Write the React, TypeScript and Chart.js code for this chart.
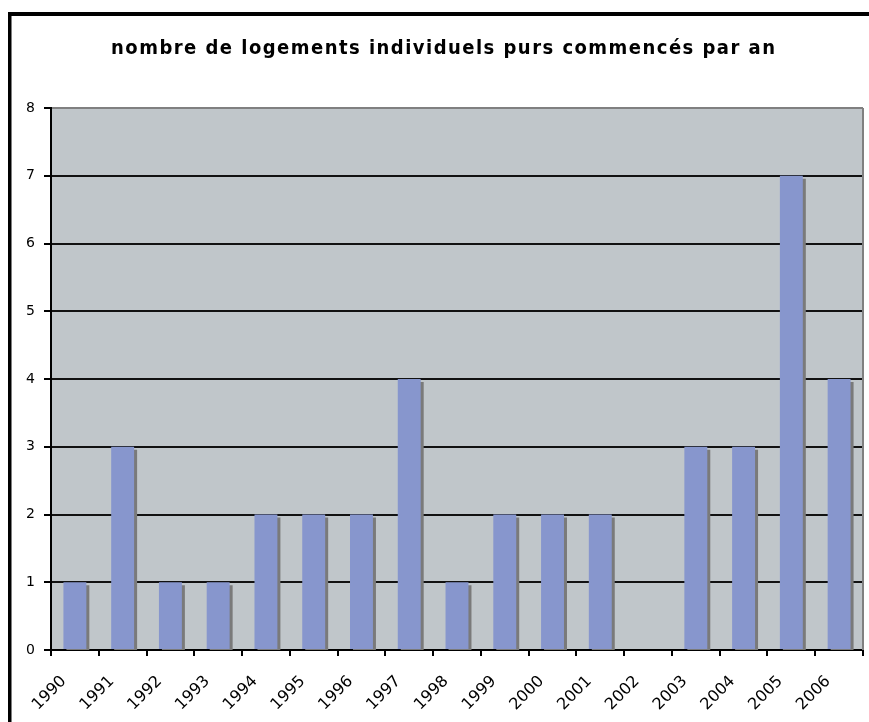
import React, { useEffect, useRef } from "react";
import { Chart, registerables } from "chart.js";

Chart.register(...registerables);

const TITLE = "nombre de logements individuels purs commencés par an";
const YEARS = ["1990", "1991", "1992", "1993", "1994", "1995", "1996", "1997", "1998", "1999", "2000", "2001", "2002", "2003", "2004", "2005", "2006"];
const VALUES = [1, 3, 1, 1, 2, 2, 2, 4, 1, 2, 2, 2, 0, 3, 3, 7, 4];
const Y_MIN = 0;
const Y_MAX = 8;

const W = 869;
const H = 722;

const decorPlugin = {
  id: "decor",
  beforeDraw(chart: any) {
    const { ctx, chartArea: a } = chart;
    ctx.save();
    ctx.fillStyle = "#ffffff";
    ctx.fillRect(0, 0, chart.width, chart.height);
    ctx.fillStyle = "#C0C6CA";
    ctx.fillRect(a.left, a.top, a.right - a.left, a.bottom - a.top);
    ctx.restore();
  },
  beforeDatasetDraw(chart: any) {
    const ctx = chart.ctx;
    ctx.shadowColor = "#7a7a7a";
    ctx.shadowOffsetX = 3;
    ctx.shadowOffsetY = 3;
    ctx.shadowBlur = 0;
  },
  afterDatasetDraw(chart: any) {
    const ctx = chart.ctx;
    ctx.shadowColor = "rgba(0,0,0,0)";
    ctx.shadowOffsetX = 0;
    ctx.shadowOffsetY = 0;
  },
  afterDraw(chart: any) {
    const { ctx, chartArea: a } = chart;
    ctx.save();
    // right plot border
    ctx.strokeStyle = "#808080";
    ctx.lineWidth = 2;
    ctx.beginPath();
    ctx.moveTo(a.right, a.top);
    ctx.lineTo(a.right, a.bottom);
    ctx.stroke();
    // outer frame
    ctx.fillStyle = "#000";
    ctx.fillRect(8, 12, 3.5, H - 12);
    ctx.fillRect(8, 12, W - 8, 4);
    // title
    ctx.font = "bold 20px 'DejaVu Sans Condensed', 'DejaVu Sans', sans-serif";
    ctx.textAlign = "center";
    ctx.textBaseline = "middle";
    ctx.fillStyle = "#000";
    const base = ctx.measureText(TITLE).width;
    const target = 664;
    const sp = Math.max(0, (target - base) / (TITLE.length - 1));
    (ctx as any).letterSpacing = sp.toFixed(2) + "px";
    ctx.fillText(TITLE, 443 + sp / 2, 49);
    ctx.restore();
  },
};

export default function App() {
  const ref = useRef<HTMLCanvasElement | null>(null);
  useEffect(() => {
    document.body.style.margin = "0";
    const canvas = ref.current!;
    const chart = new Chart(canvas, {
      type: "bar",
      data: {
        labels: YEARS,
        datasets: [
          {
            data: VALUES,
            backgroundColor: "#8796CD",
            borderWidth: 0,
            barPercentage: 0.96,
            categoryPercentage: 0.5,
          },
        ],
      },
      plugins: [decorPlugin],
      options: {
        animation: false,
        responsive: false,
        devicePixelRatio: 1,
        layout: { padding: { left: 12, right: 6, top: 108, bottom: 0 } },
        plugins: {
          legend: { display: false },
          title: { display: false },
          tooltip: { enabled: false },
        },
        scales: {
          x: {
            offset: true,
            afterFit(scale: any) {
              scale.height = 72;
            },
            grid: {
              offset: true,
              drawOnChartArea: false,
              drawTicks: true,
              tickLength: 6,
              tickColor: "#000",
              lineWidth: 2,
            },
            border: { color: "#000", width: 2 },
            ticks: {
              maxRotation: 45,
              minRotation: 45,
              autoSkip: false,
              labelOffset: -11,
              padding: 16,
              color: "#000",
              font: { family: "'DejaVu Sans', sans-serif", size: 16 },
            },
          },
          y: {
            min: Y_MIN,
            max: Y_MAX,
            afterFit(scale: any) {
              scale.width = 39;
            },
            grid: {
              color: (c: any) => (c.tick && c.tick.value === Y_MAX ? "#808080" : "#111111"),
              lineWidth: 2,
              tickLength: 7,
              tickColor: "#000",
            },
            border: { color: "#000", width: 2 },
            ticks: {
              stepSize: 1,
              padding: 9,
              color: "#000",
              font: { family: "'DejaVu Sans', sans-serif", size: 14 },
            },
          },
        },
      },
    });
    return () => chart.destroy();
  }, []);
  return <canvas ref={ref} width={W} height={H} style={{ display: "block", width: W, height: H }} />;
}
